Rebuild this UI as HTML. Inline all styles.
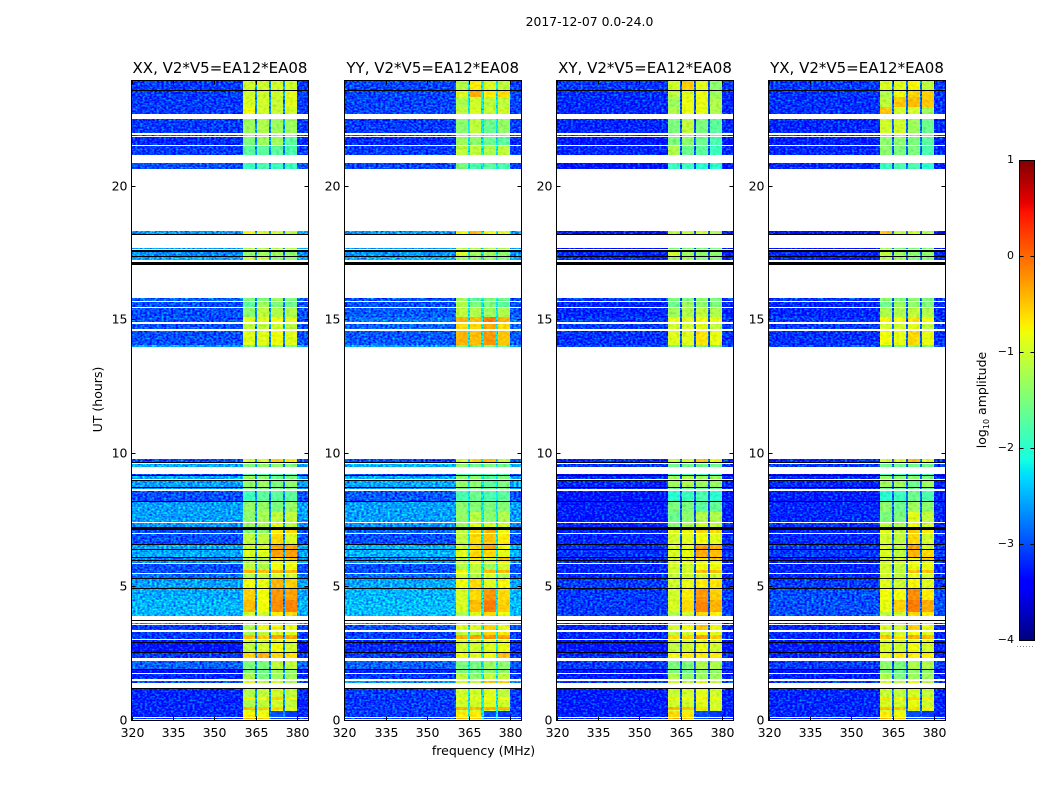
<!DOCTYPE html>
<html>
<head>
<meta charset="utf-8">
<title>2017-12-07 0.0-24.0</title>
<style>
html,body{margin:0;padding:0;background:#fff;width:1050px;height:800px;overflow:hidden}
svg{display:block}
text{font-family:"DejaVu Sans","Liberation Sans",sans-serif;fill:#000}
</style>
</head>
<body>
<svg id="chart" xmlns="http://www.w3.org/2000/svg" width="1050" height="800" viewBox="0 0 1050 800">
<defs>
<filter id="speckle" x="0" y="0" width="100%" height="100%" color-interpolation-filters="sRGB">
<feTurbulence type="fractalNoise" baseFrequency="0.42 0.55" numOctaves="1" seed="4" result="n"/>
<feColorMatrix in="n" type="matrix" values="0 0 0 0 .5 0 0 0 1 0 0 0 0 0 .5 0 0 0 0 1" result="g"/>
<feComposite in="SourceGraphic" in2="g" operator="arithmetic" k1="0" k2="1" k3="1.6" k4="-0.8" result="m"/>
<feComposite in="m" in2="SourceAlpha" operator="in"/>
</filter>
<filter id="speckle-soft" x="0" y="0" width="100%" height="100%" color-interpolation-filters="sRGB">
<feTurbulence type="fractalNoise" baseFrequency="0.3 0.4" numOctaves="1" seed="9" result="n"/>
<feColorMatrix in="n" type="matrix" values="0 0 0 1 0 0 0 0 1 0 0 0 0 1 0 0 0 0 0 1" result="g"/>
<feComposite in="SourceGraphic" in2="g" operator="arithmetic" k1="0" k2="1" k3="0.3" k4="-0.15" result="m"/>
<feComposite in="m" in2="SourceAlpha" operator="in"/>
</filter>
</defs>
<text x="589.5" y="26" font-size="12.4" text-anchor="middle">2017-12-07 0.0-24.0</text>
<text x="483.5" y="755" font-size="12.5" text-anchor="middle">frequency (MHz)</text>
<text transform="translate(102,399.5) rotate(-90)" font-size="12.5" text-anchor="middle">UT (hours)</text>
<text transform="translate(986,400) rotate(-90)" font-size="12.5" text-anchor="middle">log<tspan font-size="8" dy="3">10</tspan><tspan dy="-3"> amplitude</tspan></text>
</svg>
<script>
/* Time structure of the observation: [row start in UT hours, kind], top to bottom.
   d = data, k = black (zero amplitude), w = white (flagged). Last row ends at hour 0. */
const timeRows = [
[24.00,"d"],[23.60,"k"],[23.57,"d"],[23.35,"d"],[22.97,"d"],[22.70,"w"],[22.52,"d"],[21.99,"w"],[21.93,"d"],[21.87,"w"],
[21.84,"d"],[21.54,"w"],[21.50,"d"],[21.17,"w"],[20.87,"d"],[20.65,"w"],[18.32,"d"],[18.22,"k"],[18.15,"w"],[17.68,"d"],
[17.63,"w"],[17.60,"k"],[17.54,"w"],[17.52,"d"],[17.38,"k"],[17.35,"d"],[17.22,"w"],[17.14,"k"],[17.04,"w"],[15.79,"d"],
[15.70,"w"],[15.66,"d"],[15.48,"w"],[15.44,"d"],[15.10,"d"],[14.89,"w"],[14.83,"d"],[14.63,"w"],[14.58,"d"],[14.04,"d"],
[13.96,"w"],[9.77,"d"],[9.64,"k"],[9.61,"w"],[9.58,"d"],[9.46,"w"],[9.21,"d"],[9.17,"k"],[9.14,"d"],[9.03,"w"],
[8.98,"k"],[8.94,"d"],[8.73,"k"],[8.69,"d"],[8.63,"w"],[8.56,"d"],[8.20,"k"],[8.14,"d"],[7.78,"d"],[7.41,"w"],
[7.37,"d"],[7.21,"k"],[7.12,"d"],[7.00,"w"],[6.97,"d"],[6.58,"k"],[6.54,"d"],[6.38,"k"],[6.36,"d"],[6.10,"k"],
[6.07,"d"],[5.97,"k"],[5.93,"d"],[5.88,"w"],[5.84,"d"],[5.61,"d"],[5.49,"w"],[5.46,"d"],[5.31,"k"],[5.27,"d"],
[4.93,"k"],[4.90,"d"],[4.48,"d"],[4.03,"d"],[3.89,"w"],[3.73,"k"],[3.69,"w"],[3.62,"d"],[3.57,"w"],[3.53,"d"],
[3.34,"w"],[3.28,"d"],[3.17,"d"],[3.01,"w"],[2.97,"d"],[2.89,"k"],[2.86,"d"],[2.54,"k"],[2.50,"d"],[2.32,"w"],
[2.19,"d"],[1.89,"k"],[1.87,"d"],[1.75,"w"],[1.71,"d"],[1.52,"w"],[1.44,"d"],[1.36,"w"],[1.17,"k"],[1.13,"d"],
[0.84,"d"],[0.72,"d"],[0.48,"d"],[0.36,"d"],[0.32,"d"],[0.10,"w"],[0.07,"d"],[0.04,"w"]];
/* Frequency bands (MHz): background, spectral windows and the gaps between them */
const freqEdges = [320,360.4,364.6,365.4,369.6,370.4,374.7,375.5,379.8,384];
const freqBands = ["bg","c1","gap","c2","gap","c3","gap","c4","bg"];
const panelNames = ["XX","YY","XY","YX"];
const panelTitles = ["XX, V2*V5=EA12*EA08","YY, V2*V5=EA12*EA08","XY, V2*V5=EA12*EA08","YX, V2*V5=EA12*EA08"];
const xTicks = [320,335,350,365,380];
const yTicks = [0,5,10,15,20];
const cbTicks = [-4,-3,-2,-1,0,1];
const gapLevels = [-2.7,-2.2,-3,-2.9];
/* log10 amplitude per data row: [background, window 1, window 2, window 3, window 4] */
const levelsXX = [
[-3.1,-1,-1,-1,-1],[-3.1,-1,-1,-1,-.9],[-3.1,-.95,-1,-1.05,-.9],[-3.1,-.8,-1,-1.05,-1],[-3.1,-1.3,-1.2,-1.3,-1.3],
[-3,-1.4,-1.4,-1.4,-1.4],[-3.2,-1.5,-1.3,-1.3,-1.7],[-3.1,-1.7,-1.7,-1.7,-1.8],[-3,-1.9,-1.8,-1.9,-1.9],[-2.6,-.8,-1,-1,-1.1],
[-2.6,-1.2,-1.2,-1.2,-1.2],[-2.7,-1.4,-1.3,-1.3,-1.4],[-2.55,-1.1,-1.1,-1.4,-1.4],[-2.9,-1.5,-1.5,-1.3,-1.5],[-3,-1.7,-1.3,-1.5,-1.6],
[-3,-1.4,-1.1,-1.2,-1.2],[-3,-.9,-.9,-.8,-.9],[-3,-1.1,-1.1,-1,-1.1],[-3,-.9,-.9,-.8,-.9],[-2.55,-1.5,-1.5,-1.5,-1.5],
[-3,-1,-.95,-.55,-.7],[-2.55,-1.5,-1.4,-1.4,-1.5],[-3,-1.8,-1.8,-1.8,-1.8],[-2.55,-1.3,-1.4,-1.6,-1.5],[-2.6,-1.35,-1.3,-1.5,-1.4],
[-2.65,-1.5,-1.5,-1.5,-1.5],[-3,-1.9,-1.7,-1.7,-1.7],[-2.6,-1.35,-1.35,-1.5,-1.35],[-2.6,-1.4,-1.25,-1.1,-1.1],[-2.65,-1.3,-1.2,-.9,-1.1],
[-3,-1.5,-1.4,-.7,-.6],[-3,-1.1,-1.1,-.6,-.95],[-2.55,-1,-.95,-.35,-.35],[-2.55,-.95,-.9,-.3,-.3],[-2.75,-1.2,-1.2,-.7,-.5],
[-2.6,-1.2,-1.2,-.9,-.9],[-3,-1.1,-1.2,-.8,-.8],[-3,-.4,-.45,-.4,-.4],[-2.85,-1.2,-1.1,-1,-1],[-2.6,-.8,-.85,-.4,-.55],
[-2.55,-.55,-.8,-.25,-.3],[-2.5,-.45,-.8,-.2,-.15],[-2.5,-1,-1,-.7,-.6],[-2.6,-1.2,-1.2,-1.2,-1.2],[-3.1,-1.2,-.85,-.75,-.85],
[-3.1,-1.2,-1.1,-.9,-.9],[-3.1,-.45,-.5,-.3,-.35],[-3.2,-1,-1,-.9,-.9],[-3.3,-1.1,-1,-.8,-1],[-3.1,-.6,-.4,-.6,-.65],
[-2.9,-1.5,-1.5,-1.1,-1.1],[-3.3,-1.5,-1.6,-1.3,-1.4],[-3.2,-1.2,-1.5,-1.3,-1.3],[-3,-.9,-1.1,-1,-1.2],[-3.2,-1.2,-1.1,-1,-1.1],
[-3.2,-.7,-.75,-.55,-.75],[-3.2,-1.2,-1.1,-1,-1.1],[-3.2,-.45,-.5,-.6,-.9],[-3.2,-1,-1,-.8,-1],[-3.2,-.75,-.8,-3,-3.1],[-3.2,-.4,-.5,-3,-3.1]];
const levelsYY = [
[-3.05,-1.15,-.7,-.95,-1.1],[-3.05,-.9,-.35,-.7,-.6],[-3.05,-1.2,-1,-1.1,-1.1],[-3.05,-1.1,-.95,-1.05,-1],[-3.1,-1.4,-1.1,-1.6,-1.35],
[-3,-1.4,-1.4,-1.5,-1.5],[-3.2,-1.3,-1.4,-1.6,-1.7],[-3.1,-1.1,-1.1,-1.2,-1.1],[-3.05,-1.5,-1.8,-1.7,-1.8],[-2.6,-.8,-.45,-.8,-.9],
[-2.65,-1.2,-1.2,-1.2,-1.2],[-2.65,-.95,-1.3,-1.3,-1.4],[-2.5,-1.3,-1.4,-1.4,-1.5],[-3,-1.3,-1.7,-1.5,-1.6],[-3,-1.2,-1.5,-1.5,-1.7],
[-2.95,-1.1,-1.2,-1.3,-1.2],[-2.8,-.4,-.45,-.1,-.4],[-2.9,-.6,-.6,-.35,-.6],[-2.95,-.4,-.45,-.25,-.5],[-2.55,-1.5,-1.6,-1.5,-1.6],
[-3,-1,-.6,-.45,-1.1],[-2.5,-1.4,-1.6,-1.5,-1.6],[-3,-1.8,-1.8,-1.8,-1.8],[-2.55,-1.4,-1.4,-1.7,-1.5],[-2.55,-1.35,-1.4,-1.7,-1.5],
[-2.65,-1.5,-1.5,-1.5,-1.5],[-2.95,-1.8,-1.6,-1.8,-1.7],[-2.6,-1.4,-1.45,-1.5,-1.45],[-2.6,-1.35,-1.15,-1.4,-1.2],[-2.65,-1.3,-.9,-1,-1],
[-2.9,-1.1,-.6,-.4,-.8],[-3,-1.1,-.6,-.5,-.7],[-2.5,-1,-.6,-.35,-.8],[-2.5,-.9,-.6,-.6,-.85],[-2.75,-1.1,-.7,-1,-.5],
[-2.6,-1.1,-.8,-1,-.7],[-3,-1.2,-1.1,-1.3,-1],[-3,-.8,-1.1,-.45,-.45],[-2.85,-1,-1.2,-1,-1.2],[-2.55,-.8,-.6,-.9,-.75],
[-2.5,-.95,-.6,-.25,-.6],[-2.45,-.95,-.45,-.1,-.55],[-2.45,-1.2,-.9,-.6,-.8],[-2.6,-1.2,-1.2,-1.2,-1.2],[-3,-.9,-.9,-.55,-.9],
[-3.1,-1.1,-1.1,-.55,-.7],[-3.05,-.4,-.3,-.25,-.3],[-3.2,-1,-1,-.9,-.9],[-3.2,-1,-1,-.9,-.85],[-3.1,-.8,-.9,-.8,-.45],
[-2.9,-1.5,-1.55,-1.3,-1.4],[-3.2,-1.5,-1.6,-1.4,-1.4],[-3.1,-1.1,-1.4,-1.1,-1.1],[-2.65,-1,-1.1,-.5,-.6],[-3.1,-1,-1,-.9,-1.1],
[-3.1,-.85,-.85,-.8,-.8],[-3.1,-1,-1,-.9,-1],[-3.1,-.4,-.45,-.4,-.4],[-3.1,-1,-1,-1,-1.1],[-3.1,-.7,-.7,-3,-3.1],[-3.1,-.4,-.5,-3,-3]];
const levelsXY = [
[-3.1,-1,-.55,-.9,-1.4],[-3.15,-1.1,-.9,-.85,-1.3],[-3.2,-1.3,-.85,-.85,-1.2],[-3.2,-1.2,-.85,-.85,-1.2],[-3.2,-1.5,-1.1,-1.5,-1.7],
[-3.1,-1.5,-1.4,-1.6,-1.7],[-3.3,-1.5,-1.4,-1.6,-1.8],[-3.2,-1.2,-1.6,-1.7,-1.9],[-3.3,-1.9,-1.9,-2,-2],[-3.3,-1.1,-1.1,-1,-1.2],
[-3.4,-1.5,-1.5,-1.5,-1.5],[-3.2,-1,-1.3,-1.4,-1.4],[-3.2,-1.3,-1.3,-1.5,-1.5],[-3.1,-1.5,-1.5,-1.4,-1.5],[-3.2,-1.6,-1.3,-1.4,-1.5],
[-3.2,-1.3,-1.2,-1.1,-1.2],[-3.1,-.85,-.9,-.8,-.85],[-3.1,-1,-1,-.9,-1.1],[-3.15,-.9,-.9,-.65,-.85],[-3,-1.5,-1.5,-1.5,-1.5],
[-3.2,-1.1,-.95,-.5,-.85],[-3.1,-1.6,-1.6,-1.6,-1.6],[-3.5,-1.9,-1.9,-1.9,-1.9],[-3.2,-1.3,-1.2,-1.3,-1.3],[-3.2,-1.3,-1.2,-1.3,-1.35],
[-3.2,-1.6,-1.6,-1.6,-1.6],[-3.3,-2,-1.9,-1.8,-2],[-3.25,-1.5,-1.5,-1.7,-1.65],[-3.25,-1.6,-1.4,-1.2,-1.2],[-3.2,-1.4,-1.2,-1,-1.1],
[-3.2,-.9,-.8,-.6,-.6],[-3.2,-1,-.9,-.8,-.9],[-3.15,-.95,-.85,-.3,-.4],[-3.15,-.95,-.85,-.35,-.45],[-3.2,-1,-.9,-.7,-.5],
[-3.2,-1,-.9,-.9,-.9],[-3.2,-1,-1,-.8,-.8],[-3.2,-1,-1,-.45,-.45],[-3.2,-1.1,-1,-1,-1],[-3.1,-1,-.85,-.7,-.65],
[-3.1,-1,-.7,-.25,-.55],[-3.1,-.95,-.6,-.15,-.4],[-3.1,-1.2,-1,-.6,-.7],[-3.2,-1.3,-1.3,-1.2,-1.2],[-3.2,-1,-.8,-.5,-.8],
[-3.2,-1.1,-1,-.8,-.9],[-3.2,-.6,-.6,-.3,-.5],[-3.3,-1,-1,-.9,-.9],[-3.3,-1.1,-1,-.85,-1],[-3.2,-.8,-.7,-.7,-.7],
[-3.1,-1.5,-1.5,-1.2,-1.2],[-3.3,-1.5,-1.6,-1.4,-1.4],[-3.25,-1.2,-1.4,-1.3,-1.3],[-3.1,-1,-1.1,-.9,-1.1],[-3.25,-1.05,-1,-.9,-1],
[-3.25,-.75,-.8,-.7,-.8],[-3.25,-1,-1,-.9,-1],[-3.25,-.45,-.5,-.6,-.9],[-3.25,-1,-1,-.9,-1],[-3.25,-.6,-.7,-3,-3.1],[-3.25,-.35,-.45,-3,-3.1]];
const levelsYX = [
[-3.1,-.95,-.9,-.75,-1.1],[-3.15,-1.2,-.8,-.6,-.55],[-3.15,-1.1,-.5,-.45,-.5],[-3.15,-.5,-1,-1,-1.3],[-3.2,-1,-1,-1.3,-1.6],
[-3.1,-1.4,-1.4,-1.5,-1.6],[-3.25,-1.4,-1.4,-1.5,-1.7],[-3.2,-1.4,-1.5,-1.5,-1.8],[-3.2,-1.9,-1.8,-1.8,-2],[-3.3,-.5,-1.1,-1,-1.2],
[-3.4,-1.3,-1.5,-1.5,-1.5],[-3.2,-1.1,-1.3,-1.4,-1.4],[-3.25,-1.2,-1.3,-1.5,-1.5],[-3.1,-1.4,-1.5,-1.4,-1.5],[-3.2,-1.6,-1.3,-1.4,-1.5],
[-3.2,-1.2,-1.2,-1.1,-1.2],[-3.1,-.75,-.8,-.65,-.8],[-3.1,-1,-1,-.9,-1.1],[-3.15,-.8,-.85,-.6,-.85],[-3,-1.5,-1.5,-1.5,-1.5],
[-3.2,-1,-.95,-.45,-.9],[-3.1,-1.6,-1.6,-1.6,-1.6],[-3.5,-1.9,-1.9,-1.9,-1.9],[-3.2,-1.35,-1.4,-1.4,-1.5],[-3.2,-1.3,-1.3,-1.6,-1.3],
[-3.2,-1.6,-1.6,-1.6,-1.6],[-3.25,-2,-1.9,-1.6,-1.8],[-3.2,-1.4,-1.6,-1.3,-1.4],[-3.2,-1.5,-1.5,-.9,-1.1],[-3.15,-1.1,-1.2,-.8,-1],
[-3.2,-.9,-1.1,-.5,-.7],[-3.2,-1,-1.1,-.6,-1],[-3.1,-.95,-1.1,-.3,-.95],[-3.1,-.95,-1.1,-.4,-.6],[-3.2,-1,-1,-.8,-.5],
[-3.2,-1,-1,-.8,-.9],[-3.2,-1,-1.1,-.85,-.85],[-3.2,-1,-1.1,-.45,-.5],[-3.2,-1,-1.1,-.9,-1],[-3.1,-.9,-1,-.75,-.9],
[-3,-.8,-.8,-.2,-.7],[-3,-.85,-.55,-.1,-.35],[-3,-1.1,-1,-.6,-.7],[-3.2,-1.3,-1.3,-1.2,-1.2],[-3.2,-.95,-1,-.55,-.85],
[-3.2,-1,-1,-.8,-.9],[-3.2,-.5,-.65,-.4,-.45],[-3.25,-1,-1,-.9,-.9],[-3.25,-.95,-1,-.8,-1],[-3.2,-.85,-.7,-.7,-.7],
[-3.1,-1.4,-1.5,-1.2,-1.2],[-3.3,-1.5,-1.6,-1.4,-1.4],[-3.25,-1.2,-1.5,-1.3,-1.3],[-3.1,-1,-1.1,-.9,-1.1],[-3.2,-1.05,-1.1,-.95,-1.1],
[-3.2,-.65,-.7,-.6,-.7],[-3.2,-.95,-1,-.85,-1],[-3.2,-.45,-.5,-.6,-.7],[-3.2,-1,-1,-.9,-1],[-3.2,-.7,-.8,-3,-3.1],[-3.2,-.4,-.5,-3,-3.1]];
const panelLevels = [levelsXX,levelsYY,levelsXY,levelsYX];
const panelLefts = [131.5,344.25,556.5,768.5];

const NS = "http://www.w3.org/2000/svg";
const svg = document.getElementById("chart");
const plotW = 177, plotTop = 79.4, plotBottom = 719.5;
const frameTop = 80.5, frameBottom = 720.5;
const xMin = 320, xMax = 384, tMin = 0, tMax = 24, vMin = -4, vMax = 1;
const cbLeft = 1019.5, cbWidth = 15, cbTop = 160, cbBottom = 640;

function make(tag, attrs, parent) {
  const el = document.createElementNS(NS, tag);
  for (const k in attrs) el.setAttribute(k, attrs[k]);
  parent.appendChild(el);
  return el;
}
function xScale(mhz, left) { return left + (mhz - xMin) * plotW / (xMax - xMin); }
function yScale(h) { return plotBottom - (h - tMin) * (plotBottom - plotTop) / (tMax - tMin); }
function cbScale(v) { return cbBottom - (v - vMin) * (cbBottom - cbTop) / (vMax - vMin); }
function lerp(stops, t) {
  for (let i = 1; i < stops.length; i++) {
    if (t <= stops[i][0]) {
      const a = stops[i - 1], b = stops[i];
      return a[1] + (b[1] - a[1]) * (t - a[0]) / (b[0] - a[0]);
    }
  }
  return stops[stops.length - 1][1];
}
const jetR = [[0,0],[.35,0],[.66,1],[.89,1],[1,.5]];
const jetG = [[0,0],[.125,0],[.375,1],[.64,1],[.91,0],[1,0]];
const jetB = [[0,.5],[.11,1],[.34,1],[.65,0],[1,0]];
function jet(v) {
  const t = Math.max(0, Math.min(1, (v - vMin) / (vMax - vMin)));
  return "rgb(" + Math.round(255 * lerp(jetR, t)) + "," + Math.round(255 * lerp(jetG, t)) + "," + Math.round(255 * lerp(jetB, t)) + ")";
}
function fmt(v) { return v < 0 ? "\u2212" + Math.abs(v) : String(v); }

panelNames.forEach(function (name, p) {
  const left = panelLefts[p];
  const frameLeft = Math.round(left - 0.5) + 0.5;
  const frameRight = Math.round(left + plotW - 0.5) + 0.5;
  const levels = panelLevels[p];
  const panel = make("g", {}, svg);
  
  

  const bgLayer = make("g", { filter: "url(#speckle)" }, panel);
  
  
  const chLayer = make("g", { filter: "url(#speckle-soft)" }, panel);
  
  
  const flagLayer = make("g", {}, panel);
  
  

  let d = 0;
  for (let r = 0; r < timeRows.length; r++) {
    const kind = timeRows[r][1];
    const nextHour = r + 1 < timeRows.length ? timeRows[r + 1][0] : tMin;
    const y0 = Math.max(81, Math.round(yScale(timeRows[r][0])));
    const y1 = Math.min(720, Math.round(yScale(nextHour)));
    const h = Math.max(1, y1 - y0);
    if (kind === "k") {
      const bar = make("rect", { x: frameLeft, y: y0, width: frameRight - frameLeft, height: h, fill: "#000", "shape-rendering": "crispEdges" }, flagLayer);
      
      
    } else if (kind === "d") {
      const row = levels[d++];
      for (let b = 0; b < freqBands.length; b++) {
        const band = freqBands[b];
        let v;
        if (band === "bg") v = row[0];
        else if (band === "gap") v = gapLevels[p];
        else v = row[Number(band.charAt(1))];
        const x0 = Math.round(xScale(freqEdges[b], left));
        const x1 = Math.round(xScale(freqEdges[b + 1], left));
        const cell = make("rect", { x: x0, y: y0, width: x1 - x0, height: h, fill: jet(v), "shape-rendering": "crispEdges" }, (band === "bg" || band === "gap") ? bgLayer : chLayer);
        
        
      }
    }
  }

  const frame = make("rect", { x: frameLeft, y: frameTop, width: frameRight - frameLeft, height: frameBottom - frameTop, fill: "none", stroke: "#000", "stroke-width": 1 }, panel);
  
  

  xTicks.forEach(function (t) {
    const x = Math.round(xScale(t, left)) + 0.5;
    const top = make("line", { x1: x, x2: x, y1: frameTop, y2: frameTop + 4, stroke: "#000" }, panel);
    
    
    const bottom = make("line", { x1: x, x2: x, y1: frameBottom, y2: frameBottom - 4, stroke: "#000" }, panel);
    
    
    const lab = make("text", { x: x, y: plotBottom + 17.5, "font-size": 12.5, "text-anchor": "middle" }, panel);
    
    
    lab.textContent = t;
  });
  yTicks.forEach(function (t) {
    const y = Math.round(yScale(t)) + 0.5;
    const l = make("line", { x1: frameLeft, x2: frameLeft + 4, y1: y, y2: y, stroke: "#000" }, panel);
    
    
    const rt = make("line", { x1: frameRight, x2: frameRight - 4, y1: y, y2: y, stroke: "#000" }, panel);
    
    
    const lab = make("text", { x: frameLeft - 4, y: y + 4, "font-size": 12.5, "text-anchor": "end" }, panel);
    
    
    lab.textContent = t;
  });
  const title = make("text", { x: left + plotW / 2, y: 73, "font-size": 15, "text-anchor": "middle" }, panel);
  
  
  title.textContent = panelTitles[p];
});

/* Colorbar */
const cbar = make("g", {}, svg);


for (let py = cbTop; py < cbBottom; py++) {
  const v = vMax - (py + 0.5 - cbTop) * (vMax - vMin) / (cbBottom - cbTop);
  const strip = make("rect", { x: 1020, y: py, width: 14, height: 1, fill: jet(v), "shape-rendering": "crispEdges" }, cbar);
  
  
}
const cbFrame = make("rect", { x: cbLeft, y: cbTop + 0.5, width: cbWidth, height: cbBottom - cbTop, fill: "none", stroke: "#000" }, cbar);


cbTicks.forEach(function (v) {
  const y = Math.round(cbScale(v)) + 0.5;
  const a = make("line", { x1: cbLeft, x2: cbLeft + 4, y1: y, y2: y, stroke: "#000" }, cbar);
  
  
  const b = make("line", { x1: cbLeft + cbWidth, x2: cbLeft + cbWidth - 4, y1: y, y2: y, stroke: "#000" }, cbar);
  
  
  const lab = make("text", { x: 1014, y: y + 2.5, "font-size": 11, "text-anchor": "end" }, cbar);
  
  
  lab.textContent = fmt(v);
});
const dots = make("line", { x1: 1017, x2: 1035, y1: 646.5, y2: 646.5, stroke: "#888", "stroke-dasharray": "1 2" }, cbar);


</script>
</body>
</html>
